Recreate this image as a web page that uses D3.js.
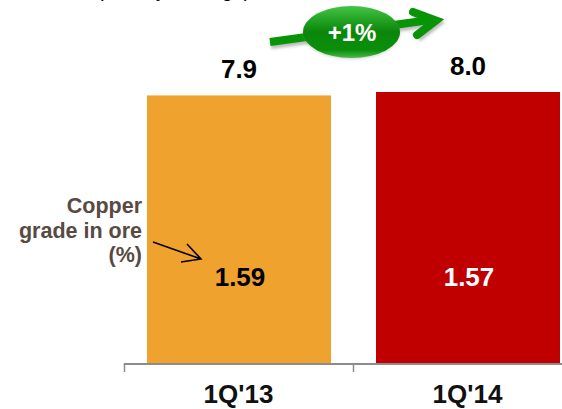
<!DOCTYPE html>
<html><head><meta charset="utf-8">
<script src="https://cdn.jsdelivr.net/npm/d3@7"></script>
<style>html,body{margin:0;padding:0;background:#fff;overflow:hidden}svg{display:block}text{font-family:"Liberation Sans",Arial,sans-serif}</style>
</head><body><div id="c"></div>
<script>
const categories = ["1Q'13", "1Q'14"];
const totals = [7.9, 8.0];
const grades = ["1.59", "1.57"];
const barColors = ["#F0A22E", "#C00000"];
const gradeColors = ["#000000", "#FFFFFF"];
const growthLabel = "+1%";
const gradeTitle = ["Copper", "grade in ore", "(%)"];
const subtitle = "(kt daily average)";

const W = 562, H = 409;
const svg = d3.select("#c").append("svg").attr("width", W).attr("height", H);
const x = d3.scaleBand().domain(categories).range([124.5, 582.5]).paddingInner(45/229).paddingOuter(22.5/229);
const y = d3.scaleLinear().domain([0, 8]).range([364, 92]);

const defs = svg.append("defs");
const g1 = defs.append("linearGradient").attr("id","pill").attr("x1",0).attr("y1",0).attr("x2",0).attr("y2",1);
[[0,"#45C445"],[0.25,"#25A525"],[0.5,"#0B860B"],[0.85,"#0A8F0A"],[1,"#4CB84C"]].forEach(d=>g1.append("stop").attr("offset",d[0]).attr("stop-color",d[1]));
const blur = defs.append("filter").attr("id","sh").attr("x","-20%").attr("y","-20%").attr("width","140%").attr("height","150%");
blur.append("feGaussianBlur").attr("stdDeviation",1.5);

svg.append("text").attr("x",97).attr("y",-3).attr("font-size",20).attr("fill","#000").text(subtitle);

svg.selectAll("rect.bar").data(categories).join("rect").attr("class","bar")
  .attr("x",d=>x(d)).attr("width",x.bandwidth())
  .attr("y",(d,i)=>y(totals[i])).attr("height",(d,i)=>y(0)-y(totals[i]))
  .attr("fill",(d,i)=>barColors[i]);

const axisColor = "#8C8C8C";
svg.append("line").attr("x1",x.range()[0]-0.75).attr("x2",W).attr("y1",364).attr("y2",364).attr("stroke",axisColor).attr("stroke-width",2);
svg.selectAll("line.t").data(categories).join("line").attr("class","t")
  .attr("x1",d=>x(d)-22.5).attr("x2",d=>x(d)-22.5).attr("y1",364).attr("y2",372)
  .attr("stroke",axisColor).attr("stroke-width",1.5);

const mid = d=>x(d)+x.bandwidth()/2;
svg.selectAll("text.cat").data(categories).join("text").attr("class","cat")
  .attr("x",d=>mid(d)-0.5).attr("y",403).attr("text-anchor","middle")
  .attr("font-size",26).attr("font-weight","bold").attr("fill","#111").text(d=>d);
svg.selectAll("text.tot").data(categories).join("text").attr("class","tot")
  .attr("x",d=>mid(d)).attr("y",(d,i)=>y(totals[i])-17).attr("text-anchor","middle")
  .attr("font-size",26).attr("font-weight","bold").attr("fill","#000").text((d,i)=>totals[i].toFixed(1));
svg.selectAll("text.gr").data(categories).join("text").attr("class","gr")
  .attr("x",d=>mid(d)+1).attr("y",286).attr("text-anchor","middle")
  .attr("font-size",26).attr("font-weight","bold").attr("fill",(d,i)=>gradeColors[i]).text((d,i)=>grades[i]);

svg.selectAll("text.gt").data(gradeTitle).join("text").attr("class","gt")
  .attr("x",142).attr("y",(d,i)=>213+i*24.5).attr("text-anchor","end")
  .attr("font-size",21.5).attr("font-weight","bold").attr("fill","#584A42").text(d=>d);

const pointer = svg.append("g").attr("fill","none").attr("stroke","#000").attr("stroke-width",1.6);
pointer.append("path").attr("d","M153,242L201,259M187,244L201,259L181,262");

const arrow = svg.append("g");
const green = "#079407";
arrow.append("path").attr("d","M270,42L430,20M413,12L436,20.5L417,35").attr("fill","none").attr("stroke","#555").attr("stroke-opacity",0.4).attr("stroke-width",8).attr("transform","translate(1,3)").attr("filter","url(#sh)");
arrow.append("path").attr("d","M270,42L430,20").attr("fill","none").attr("stroke",green).attr("stroke-width",8);
arrow.append("path").attr("d","M413,12L436,20.5L417,35").attr("fill","none").attr("stroke",green).attr("stroke-width",8).attr("stroke-linecap","round").attr("stroke-linejoin","miter");
arrow.append("ellipse").attr("cx",351.5).attr("cy",33).attr("rx",48.5).attr("ry",26).attr("fill","#888").attr("opacity",0.4).attr("filter","url(#sh)");
arrow.append("ellipse").attr("cx",351.5).attr("cy",32).attr("rx",48.5).attr("ry",26).attr("fill","url(#pill)");
arrow.append("text").attr("x",352).attr("y",41).attr("text-anchor","middle").attr("font-size",24).attr("font-weight","bold").attr("fill","#fff").text(growthLabel);
</script></body></html>
